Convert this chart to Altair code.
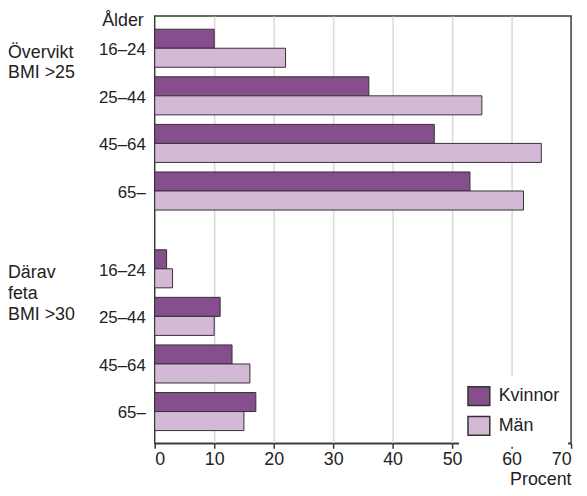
import altair as alt
import pandas as pd

# ---- data ----
ages = ["16–24", "25–44", "45–64", "65–"]
group_labels = ["Övervikt\nBMI >25", "Därav\nfeta\nBMI >30"]
series = ["Kvinnor", "Män"]
kvinnor_overvikt = [10, 36, 47, 53]
man_overvikt = [22, 55, 65, 62]
kvinnor_feta = [2, 11, 13, 17]
man_feta = [3, 10, 16, 15]
x_ticks = [0, 10, 20, 30, 40, 50, 60, 70]

colors = ["#864e8c", "#d4b9d6"]
FONT = "Liberation Sans"

GROUP_STEP = 4.635   # distance (in rows) between first rows of the two groups
BAR = 0.4            # bar thickness in row units

bar_rows, label_rows, grp_rows = [], [], []
for g, (kv, mv) in enumerate([(kvinnor_overvikt, man_overvikt), (kvinnor_feta, man_feta)]):
    grp_rows.append(dict(text=group_labels[g], pos=g * GROUP_STEP))
    for i, age in enumerate(ages):
        pos = g * GROUP_STEP + i
        label_rows.append(dict(age=age, pos=pos))
        bar_rows.append(dict(series=series[0], value=kv[i], zero=0, y0=pos - BAR, y1=pos))
        bar_rows.append(dict(series=series[1], value=mv[i], zero=0, y0=pos, y1=pos + BAR))

bars_df = pd.DataFrame(bar_rows)
labels_df = pd.DataFrame(label_rows)
groups_df = pd.DataFrame(grp_rows)

yscale = alt.Scale(domain=[-0.677, 8.302], reverse=True, nice=False, zero=False)
xscale = alt.Scale(domain=[0, 70], nice=False)

grid_col = {"condition": {"test": "datum.value == 0 || datum.value == 70", "value": "transparent"},
            "value": "#d9d9d9"}

bars = alt.Chart(bars_df).mark_rect(stroke="#333333", strokeWidth=1).encode(
    x=alt.X("value:Q", scale=xscale,
            axis=alt.Axis(values=x_ticks, grid=True, gridColor=grid_col, gridWidth=1.5,
                          tickColor="#333333", tickWidth=1.5, tickSize=5,
                          domainColor="#3a3a3a", domainWidth=1.5,
                          labelFontSize=18, labelColor="#222222", labelFont=FONT, labelPadding=2,
                          title="Procent", titleAnchor="end", titleFontSize=18,
                          titleFontWeight="normal", titleFont=FONT, titleColor="#222222",
                          titlePadding=3)),
    x2="zero:Q",
    y=alt.Y("y0:Q", scale=yscale, axis=None),
    y2="y1:Q",
    fill=alt.Fill("series:N", sort=series,
                  scale=alt.Scale(domain=series, range=colors),
                  legend=alt.Legend(title=None, orient="none", legendX=307, legendY=363.5,
                                    fillColor="white", padding=8,
                                    symbolType="M-1,-0.86H1V0.86H-1Z", symbolSize=484,
                                    symbolStrokeColor="#333333", symbolStrokeWidth=1.5,
                                    symbolOpacity=1,
                                    labelFontSize=18, labelFont=FONT, labelColor="#222222",
                                    labelOffset=8, rowPadding=4)),
)

age_text = alt.Chart(labels_df).mark_text(
    align="right", baseline="alphabetic", dy=7, fontSize=17, font=FONT, color="#222222"
).encode(
    x=alt.value(-9),
    y=alt.Y("pos:Q", scale=yscale, axis=None),
    text="age:N",
)

group_text = alt.Chart(groups_df).mark_text(
    align="left", baseline="alphabetic", dy=9.5, fontSize=18, font=FONT,
    color="#222222", lineBreak="\n", lineHeight=21
).encode(
    x=alt.value(-148),
    y=alt.Y("pos:Q", scale=yscale, axis=None),
    text="text:N",
)

alder = alt.Chart(pd.DataFrame({"t": ["Ålder"]})).mark_text(
    align="right", baseline="alphabetic", fontSize=18, font=FONT, color="#222222"
).encode(
    x=alt.value(-11),
    y=alt.value(10),
    text="t:N",
)

chart = alt.layer(bars, age_text, group_text, alder).properties(
    width=420, height=431,
    padding={"left": 148, "top": 6, "right": 8, "bottom": 43},
    autosize=alt.AutoSizeParams(type="none"),
).configure_view(stroke="#3a3a3a", strokeWidth=1.5)

chart.save("out.html", embed_options={"renderer": "svg", "actions": False})
